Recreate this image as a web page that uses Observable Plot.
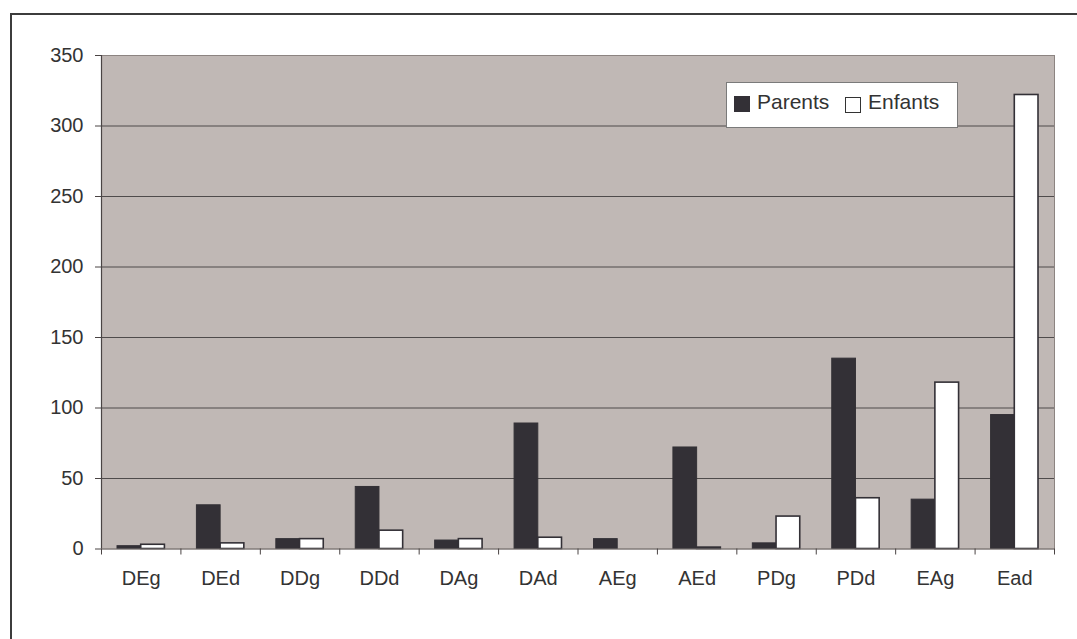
<!DOCTYPE html>
<html>
<head>
<meta charset="utf-8">
<script src="https://cdn.jsdelivr.net/npm/d3@7"></script>
<script src="https://cdn.jsdelivr.net/npm/@observablehq/plot@0.6"></script>
<style>
  html, body { margin: 0; padding: 0; background: #fff; overflow: hidden; }
  #wrap { position: relative; width: 1077px; height: 639px; font-family: "Liberation Sans", Arial, sans-serif; }
  #border { position: absolute; left: 10px; top: 13px; width: 1100px; height: 700px; border: 2px solid #3c3c3c; box-sizing: border-box; }
  #chart { position: absolute; left: 0; top: 0; }
  #legend { position: absolute; left: 726px; top: 82px; width: 232px; height: 46px; background: #fff; border: 1px solid #7a7a7a; box-sizing: border-box; font-size: 21px; color: #333; }
  .sw { position: absolute; width: 16px; height: 16px; box-sizing: border-box; }
  .lbl { position: absolute; top: 7px; line-height: 24px; }
</style>
</head>
<body>
<div id="wrap">
  <div id="border"></div>
  <div id="chart"></div>
  <div id="legend">
    <div class="sw" style="left:7px;top:13px;background:#333036;"></div>
    <div class="lbl" style="left:30px;">Parents</div>
    <div class="sw" style="left:118px;top:14px;background:#fff;border:1.5px solid #333;"></div>
    <div class="lbl" style="left:141px;">Enfants</div>
  </div>
</div>
<script>
const categories = ["DEg","DEd","DDg","DDd","DAg","DAd","AEg","AEd","PDg","PDd","EAg","Ead"];
const parents = [2, 31, 7, 44, 6, 89, 7, 72, 4, 135, 35, 95];
const enfants = [3, 4, 7, 13, 7, 8, 0, 1, 23, 36, 118, 322];
const yTicks = [0, 50, 100, 150, 200, 250, 300, 350];
const seriesNames = ["Parents", "Enfants"];

const parentsData = categories.map((c, i) => ({cat: c, series: seriesNames[0], value: parents[i]}));
const enfantsData = categories.map((c, i) => ({cat: c, series: seriesNames[1], value: enfants[i]}));

const band = (1054 - 101) / categories.length;
const gap = 16;
const barW = (band - 2 * gap) / 2;

const chart = Plot.plot({
  width: 1077,
  height: 639,
  marginLeft: 101,
  marginRight: 23,
  marginTop: 55,
  marginBottom: 90.5,
  style: {fontFamily: "'Liberation Sans', Arial, sans-serif", fontSize: "20px", color: "#333", background: "transparent"},
  x: {domain: categories, padding: 0, round: false, axis: null, label: null},
  y: {domain: [0, 350], axis: null, label: null},
  marks: [
    Plot.frame({fill: "#c0b8b5", stroke: "#8c8481"}),
    Plot.ruleY(yTicks.slice(1, -1), {stroke: "#4f4b4b", strokeWidth: 1}),
    Plot.barY(parentsData, {x: "cat", y: "value", fill: "#333036", stroke: "#333036", strokeWidth: 1, insetLeft: gap, insetRight: gap + barW}),
    Plot.barY(enfantsData.filter(d => d.value > 0), {x: "cat", y: "value", fill: "#ffffff", stroke: "#333036", strokeWidth: 1.6, insetLeft: gap + barW, insetRight: gap}),
    Plot.tickX([categories[0]], {x: d => d, dx: -band / 2, stroke: "#4a4444", strokeWidth: 1.2}),
    Plot.ruleY([0], {stroke: "#7d7674", strokeWidth: 1.2}),
    Plot.axisY({ticks: yTicks, tickSize: 6, tickPadding: 12, stroke: "#4a4444", fill: "#333", fontSize: 20, label: null}),
    Plot.axisX({ticks: categories, tickSize: 6, tickFormat: () => "", dx: -band / 2, stroke: "#4a4444", label: null}),
    Plot.axisX({ticks: [categories[categories.length - 1]], tickSize: 6, tickFormat: () => "", dx: band / 2, stroke: "#4a4444", label: null}),
    Plot.axisX({ticks: categories, tickSize: 0, tickPadding: 22, fill: "#333", fontSize: 20, label: null})
  ]
});
document.getElementById("chart").appendChild(chart);
</script>
</body>
</html>
